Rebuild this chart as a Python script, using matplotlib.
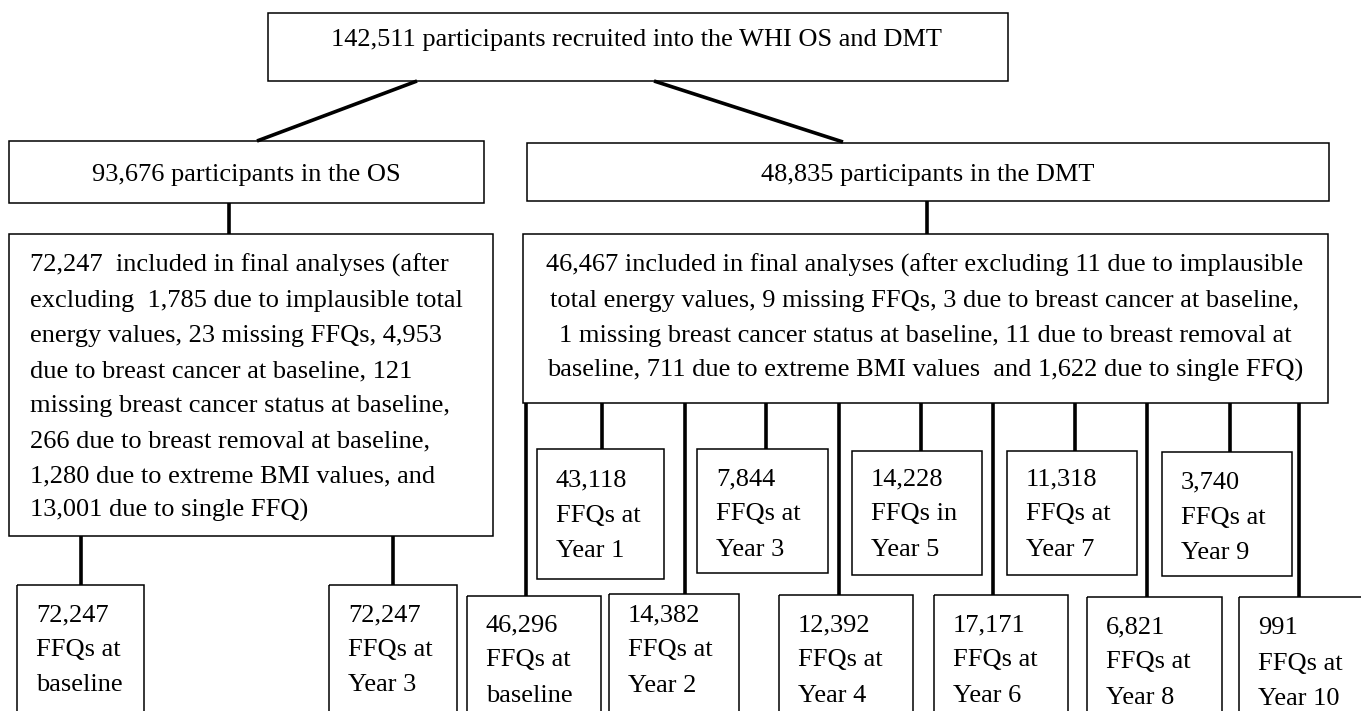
import matplotlib
matplotlib.use("Agg")
import matplotlib.pyplot as plt
from matplotlib.patches import Rectangle

# ---------------- data (text content) ----------------
top_label = "142,511 participants recruited into the WHI OS and DMT"
os_label = "93,676 participants in the OS"
dmt_label = "48,835 participants in the DMT"
os_final_lines = [
    "72,247  included in final analyses (after",
    "excluding  1,785 due to implausible total",
    "energy values, 23 missing FFQs, 4,953",
    "due to breast cancer at baseline, 121",
    "missing breast cancer status at baseline,",
    "266 due to breast removal at baseline,",
    "1,280 due to extreme BMI values, and",
    "13,001 due to single FFQ)",
]
dmt_final_lines = [
    "46,467 included in final analyses (after excluding 11 due to implausible",
    "total energy values, 9 missing FFQs, 3 due to breast cancer at baseline,",
    "1 missing breast cancer status at baseline, 11 due to breast removal at",
    "baseline, 711 due to extreme BMI values  and 1,622 due to single FFQ)",
]
os_ffq_counts = ["72,247", "72,247"]
os_ffq_words = ["FFQs at", "FFQs at"]
os_ffq_times = ["baseline", "Year 3"]

dmt_ffq_counts = ["46,296", "43,118", "14,382", "7,844", "12,392", "14,228",
                  "17,171", "11,318", "6,821", "3,740", "991"]
dmt_ffq_words = ["FFQs at", "FFQs at", "FFQs at", "FFQs at", "FFQs at", "FFQs in",
                 "FFQs at", "FFQs at", "FFQs at", "FFQs at", "FFQs at"]
dmt_ffq_times = ["baseline", "Year 1", "Year 2", "Year 3", "Year 4", "Year 5",
                 "Year 6", "Year 7", "Year 8", "Year 9", "Year 10"]

# ---------------- layout (pixel coordinates) ----------------
W, H = 1361, 711
fig = plt.figure(figsize=(W / 100, H / 100), dpi=100)
ax = fig.add_axes([0, 0, 1, 1])
ax.set_xlim(0, W)
ax.set_ylim(H, 0)
ax.axis("off")

FONT = "Liberation Serif"
FS = 19
BOX_LW = 1.1
CON_LW = 2.6


def box(x0, y0, x1, y1):
    ax.add_patch(Rectangle((x0, y0), x1 - x0, y1 - y0, fill=False,
                           edgecolor="black", linewidth=BOX_LW, clip_on=True))


def line(x0, y0, x1, y1):
    ax.plot([x0, x1], [y0, y1], color="black", linewidth=CON_LW,
            solid_capstyle="butt")


def txt(x, y, s, ha="left"):
    ax.text(x, y, s, fontsize=FS, family=FONT, ha=ha, va="baseline", color="black")


# top box
box(268, 13, 1008, 81)
txt(637, 46, top_label, ha="center")
line(417, 81, 257, 141)
line(654, 81, 843, 142)

# OS box
box(9, 141, 484, 203)
txt(246, 181, os_label, ha="center")
line(229, 203, 229, 234)

# DMT box
box(527, 143, 1329, 201)
txt(928, 181, dmt_label, ha="center")
line(927, 201, 927, 234)

# OS final box
box(9, 234, 493, 536)
for i, s in enumerate(os_final_lines):
    txt(30, 272 + 35 * i, s)

# DMT final box
box(523, 234, 1328, 403)
for i, s in enumerate(dmt_final_lines):
    txt(925, 272 + 35 * i, s, ha="center")

# OS FFQ boxes
os_boxes = [(17, 144), (329, 457)]
os_lines_x = [81, 393]
for (x0, x1), lx, c, w, t in zip(os_boxes, os_lines_x, os_ffq_counts,
                                   os_ffq_words, os_ffq_times):
    line(lx, 536, lx, 585)
    box(x0, 585, x1, 730)
    for j, s in enumerate([c, w, t]):
        txt(x0 + 19, 621 + 35 * j, s)

# DMT FFQ boxes: alternating lower (even index) and upper (odd index)
dmt_boxes = [(467, 601), (537, 664), (609, 739), (697, 828), (779, 913),
             (852, 982), (934, 1068), (1007, 1137), (1087, 1222), (1162, 1292),
             (1239, 1370)]
dmt_lines_x = [526, 602, 685, 766, 839, 921, 993, 1075, 1147, 1230, 1299]
upper_tops = [449, 449, 451, 451, 452]
upper_bottoms = [579, 573, 575, 575, 576]
upper_base = [486, 485, 485, 485, 488]
lower_tops = [596, 594, 595, 595, 597, 597]
lower_base = [631, 621, 631, 631, 633, 634]
ui = li = 0
for k, ((x0, x1), lx, c, w, t) in enumerate(zip(dmt_boxes, dmt_lines_x, dmt_ffq_counts,
                                                 dmt_ffq_words, dmt_ffq_times)):
    if k % 2 == 1:
        top, bot, b0 = upper_tops[ui], upper_bottoms[ui], upper_base[ui]
        ui += 1
    else:
        top, bot, b0 = lower_tops[li], 730, lower_base[li]
        li += 1
    line(lx, 403, lx, top)
    box(x0, top, x1, bot)
    for j, s in enumerate([c, w, t]):
        txt(x0 + 19, b0 + 35.5 * j, s)

fig.savefig("out.png", dpi=100)
